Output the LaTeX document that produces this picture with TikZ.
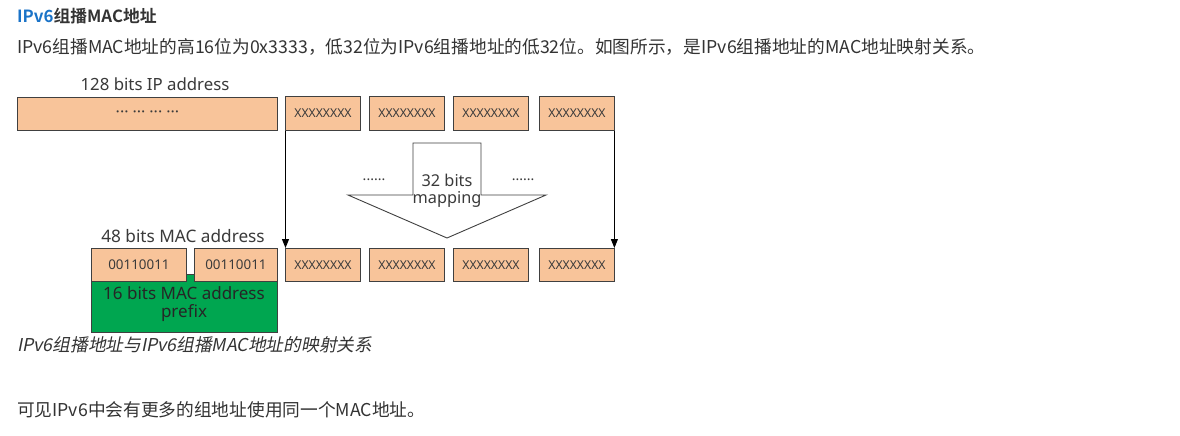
\documentclass[tikz,border=0pt]{standalone}
\usepackage{fontspec}
\setmainfont{Noto Sans CJK SC}
\newfontfamily\cjkb[BoldFont={Noto Sans CJK SC Bold}]{Noto Sans CJK SC}
\newfontfamily\cjkit[FakeSlant=0.2]{Noto Sans CJK SC}
\newfontfamily\dg{Noto Sans}
\usetikzlibrary{arrows.meta}
\definecolor{bodytxt}{HTML}{333333}
\definecolor{titleblue}{HTML}{1A73C8}
\definecolor{boxfill}{HTML}{F8C49A}
\definecolor{boxline}{HTML}{404040}
\definecolor{prefixgreen}{HTML}{00A650}
\definecolor{lbl}{HTML}{3A3A3A}
\tikzset{
  body/.style={anchor=base west, inner sep=0pt, text=bodytxt, font=\fontsize{17.7}{20}\selectfont},
  obox/.style={draw=boxline, line width=0.9pt, fill=boxfill, anchor=north west, inner sep=0pt, minimum height=34pt, text=lbl},
  xbox/.style={obox, minimum width=75pt, font=\dg\fontsize{12.2}{14}\selectfont},
  gbox/.style={draw=boxline, line width=0.9pt, fill=prefixgreen, anchor=north west, inner sep=0pt},
  lab/.style={inner sep=0pt, text=lbl, font=\dg\fontsize{16.8}{19}\selectfont},
  conn/.style={draw=black, line width=0.9pt, -{Triangle[length=9pt,width=7pt]}},
  bigarrow/.style={draw=boxline, line width=0.9pt, fill=white},
}
\begin{document}
\begin{tikzpicture}[x=1pt,y=-1pt]
\useasboundingbox[fill=white] (0,0) rectangle (1180,436);
% text
\node[body, font=\cjkb\bfseries\fontsize{16.8}{19}\selectfont] (title) at (17,23) {\textcolor{titleblue}{IPv6}组播MAC地址};
\node[body] (intro) at (17,54) {IPv6组播MAC地址的高16位为0x3333，低32位为IPv6组播地址的低32位。如图所示，是IPv6组播地址的MAC地址映射关系。};
\node[body, font=\cjkit\fontsize{17.7}{20}\selectfont] (caption) at (17,351) {IPv6组播地址与IPv6组播MAC地址的映射关系};
\node[body] (concl) at (17,416) {可见IPv6中会有更多的组地址使用同一个MAC地址。};
% IP address
\node[lab] (iplab) at (155,84) {128 bits IP address};
\node[obox, minimum width=260pt, minimum height=33pt, font=\dg\fontsize{16}{18}\selectfont] (ip) at (17,97) {···\hspace{4pt}···\hspace{4pt}···\hspace{4pt}···};
\node[xbox] (t1) at (285,96) {XXXXXXXX};
\node[xbox] (t2) at (369,96) {XXXXXXXX};
\node[xbox] (t3) at (453,96) {XXXXXXXX};
\node[xbox] (t4) at (539,96) {XXXXXXXX};
% MAC address
\node[lab, font=\dg\fontsize{17.2}{19}\selectfont] (maclab) at (183,236) {48 bits MAC address};
\node[gbox, minimum width=186pt, minimum height=58pt] (g) at (91,274) {};
\node[lab, font=\dg\fontsize{17}{19}\selectfont, text=black!85] (gl1) at (184,293) {16 bits MAC address};
\node[lab, font=\dg\fontsize{17}{19}\selectfont, text=black!85] (gl2) at (184,313) {prefix};
\node[obox, minimum width=95pt, minimum height=33pt, font=\dg\fontsize{13.4}{15}\selectfont] (m1) at (91,248) {00110011};
\node[obox, minimum width=83pt, minimum height=33pt, font=\dg\fontsize{13.4}{15}\selectfont] (m2) at (194,248) {00110011};
\node[xbox, minimum height=33pt] (b1) at (285,248) {XXXXXXXX};
\node[xbox, minimum height=33pt] (b2) at (369,248) {XXXXXXXX};
\node[xbox, minimum height=33pt] (b3) at (453,248) {XXXXXXXX};
\node[xbox, minimum height=33pt] (b4) at (539,248) {XXXXXXXX};
% connectors
\draw[conn] ([xshift=0.5pt]t1.south west) -- ([xshift=0.5pt]b1.north west);
\draw[conn] ([xshift=-0.5pt]t4.south east) -- ([xshift=-0.5pt]b4.north east);
% big mapping arrow
\draw[bigarrow] (413,143) -- (481,143) -- (481,195) -- (546,195) -- (447,238) -- (348,195) -- (413,195) -- cycle;
\node[lab, font=\dg\fontsize{16.3}{18}\selectfont] (m32) at (447,180) {32 bits};
\node[lab, font=\dg\fontsize{16.3}{18}\selectfont] (mmap) at (447,199) {mapping};
\node[lab, font=\dg\fontsize{14}{16}\selectfont] (dl) at (374,180) {......};
\node[lab, font=\dg\fontsize{14}{16}\selectfont] (dr) at (523,180) {......};
\end{tikzpicture}
\end{document}
